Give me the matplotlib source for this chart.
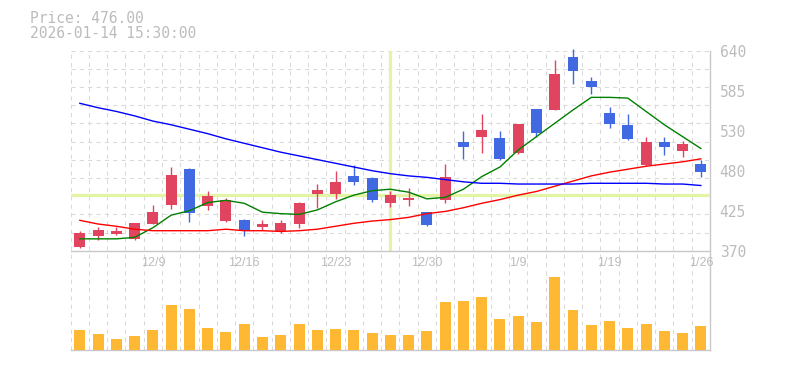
# candlestick chart with moving averages and volume
import numpy as np
import matplotlib.pyplot as plt

# trading days shown on the chart
dates = ['12/3', '12/4', '12/5', '12/8', '12/9', '12/10', '12/11', '12/12', '12/15', '12/16',
         '12/17', '12/18', '12/19', '12/22', '12/23', '12/24', '12/25', '12/26', '12/29', '12/30',
         '1/5', '1/6', '1/7', '1/8', '1/9', '1/13', '1/14', '1/15', '1/16', '1/19',
         '1/20', '1/21', '1/22', '1/23', '1/26']

# price data
opens  = [375, 390, 393, 386, 406, 432, 480, 431, 410, 411, 402, 396, 406, 447, 446, 471, 468, 435,
          439, 422, 438, 517, 523, 522, 502, 561, 560, 631, 599, 556, 540, 486, 517, 505, 487]
highs  = [396, 402, 402, 407, 432, 483, 482, 451, 441, 413, 411, 411, 436, 460, 478, 486, 470, 451,
          455, 422, 487, 531, 555, 532, 541, 561, 627, 642, 604, 564, 554, 523, 523, 518, 492]
lows   = [373, 385, 391, 384, 406, 426, 409, 425, 409, 390, 398, 394, 401, 428, 440, 459, 436, 429,
          431, 404, 434, 494, 502, 492, 501, 523, 560, 595, 582, 536, 519, 484, 499, 497, 469]
closes = [394, 398, 396, 407, 422, 472, 421, 444, 438, 398, 406, 407, 434, 452, 463, 463, 439, 445,
          441, 405, 470, 510, 533, 494, 541, 529, 608, 613, 591, 541, 521, 517, 510, 514, 476]

# moving averages (short, mid, long)
ma_short = [386, 386, 386, 388, 401, 418, 424, 435, 438, 434, 422, 420, 419, 425, 436, 445, 451, 453,
            449, 440, 442, 453, 470, 483, 506, 524, 542, 560, 577, 577, 576, 558, 540, 524, 508]
ma_mid   = [411, 406, 403, 399, 397, 397, 397, 397, 399, 397, 397, 396, 397, 399, 403, 407, 410, 412,
            415, 420, 423, 428, 434, 439, 445, 450, 457, 464, 471, 476, 480, 484, 487, 490, 494]
ma_long  = [569, 563, 558, 552, 545, 540, 534, 528, 521, 515, 509, 503, 498, 493, 488, 483, 478, 474,
            471, 469, 466, 463, 461, 461, 460, 460, 460, 460, 461, 461, 461, 461, 460, 460, 458]

# volume (thousand shares)
volume = [20, 16, 11, 14, 20, 45, 41, 22, 18, 26, 13, 15, 26, 20, 21, 20, 17, 15,
          15, 19, 48, 49, 53, 31, 34, 28, 73, 40, 25, 29, 22, 26, 19, 17, 24]

tick_idx = [4, 9, 14, 19, 24, 29, 34]
ytick_vals = [370, 424, 478, 532, 586, 640]
ytick_text = ['370', '425', '480', '530', '585', '640']

# crosshair position
cross_bar = 17
cross_price = 445

up_col = '#e0445f'
down_col = '#4169e1'
grid_col = '#d9d9d9'
text_col = '#bcbcbc'
axis_col = '#c8c8c8'

W, H = 785, 370
fig = plt.figure(figsize=(W/100, H/100), dpi=100)

x = np.arange(len(dates))
o = np.array(opens); c = np.array(closes)
up = c >= o
xlim = (-0.5, len(dates) - 0.5)

def fig_box(left, top, right, bottom):
    return [left/W, 1 - bottom/H, (right - left)/W, (bottom - top)/H]

# background axes with vertical grid running through both panels
bg = fig.add_axes(fig_box(70.7, 50.7, 710, 350))
bg.set_xlim(xlim)
bg.set_ylim(0, 1)
for xv in np.arange(-0.5, len(dates) - 0.5, 1.0):
    bg.axvline(xv, color=grid_col, lw=0.75, ls=(0, (4, 4)))
for s in ['left', 'top', 'bottom']:
    bg.spines[s].set_visible(False)
bg.spines['right'].set_color(axis_col)
bg.spines['right'].set_linewidth(1.0)
bg.set_xticks([]); bg.set_yticks([])
bg.patch.set_alpha(0)

# price panel
ax = fig.add_axes(fig_box(70.7, 50.7, 710, 250.7))
ax.patch.set_alpha(0)
ax.set_xlim(xlim)
ax.set_ylim(370, 640)
for yv in np.linspace(370, 640, 12)[1:]:
    ax.axhline(yv, color=grid_col, lw=0.75, ls=(0, (4, 4)), zorder=0)

ax.axvline(cross_bar, color='#e3f4a4', lw=2.3, zorder=1)
ax.axhline(cross_price, color='#e3f4a4', lw=2.3, zorder=1)

cols = np.where(up, up_col, down_col)
ax.vlines(x, lows, highs, colors=cols, lw=1.0, zorder=3, clip_on=False)
body_lo = np.minimum(o, c)
body_h = np.maximum(np.abs(c - o), 0.8)
ax.bar(x, body_h, bottom=body_lo, width=0.6, color=cols, zorder=3)

ax.plot(x, ma_short, color='#008000', lw=1.0, zorder=4)
ax.plot(x, ma_mid, color='#ff0000', lw=1.0, zorder=4)
ax.plot(x, ma_long, color='#0000ff', lw=1.0, zorder=4)

for s in ['left', 'top', 'right']:
    ax.spines[s].set_visible(False)
ax.spines['bottom'].set_color(axis_col)
ax.spines['bottom'].set_linewidth(1.0)
ax.yaxis.tick_right()
ax.set_yticks(ytick_vals)
ax.set_yticklabels(ytick_text, family='DejaVu Sans Mono', size=10.5, color=text_col)
ax.tick_params(axis='y', length=0, pad=7)
ax.set_xticks([x[i] for i in tick_idx])
ax.set_xticklabels([dates[i] for i in tick_idx], family='Liberation Sans', size=9, color=text_col)
ax.tick_params(axis='x', length=0, pad=4.5)

# volume panel
vax = fig.add_axes(fig_box(70.7, 265, 710, 350))
vax.patch.set_alpha(0)
vax.set_xlim(xlim)
vax.set_ylim(0, 85)
vax.bar(x, volume, width=0.6, color='#ffb833', zorder=3)
for s in ['left', 'top', 'right']:
    vax.spines[s].set_visible(False)
vax.spines['bottom'].set_color(axis_col)
vax.spines['bottom'].set_linewidth(1.0)
vax.set_xticks([]); vax.set_yticks([])

# header text
fig.text(30/W, 1 - 22.7/H, f'Price: {closes[-1]:.2f}', family='DejaVu Sans Mono',
         size=10.5, color=text_col, va='baseline')
fig.text(30/W, 1 - 37.7/H, '2026-01-14 15:30:00', family='DejaVu Sans Mono',
         size=10.5, color=text_col, va='baseline')

fig.savefig('out.png', dpi=100)
